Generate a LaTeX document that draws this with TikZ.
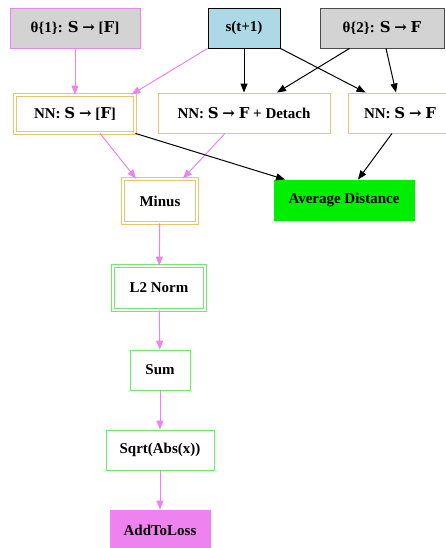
\documentclass[tikz,border=0pt]{standalone}
\usepackage{fontspec}
\setmainfont{Liberation Serif}
\newfontfamily\symfont{DejaVu Serif}
\usetikzlibrary{arrows.meta}
\definecolor{vio}{HTML}{EE82EE}
\definecolor{orng}{HTML}{F2C46A}
\definecolor{lgreen}{HTML}{6AEE6A}
\definecolor{gfill}{HTML}{00EE00}
\definecolor{gray1}{HTML}{D3D3D3}
\definecolor{lblue}{HTML}{ADD8E6}
\newcommand{\bS}{{\symfont\bfseries S}}
\newcommand{\bF}{{\symfont\bfseries F}}
\newcommand{\rarr}{\ {\symfont\bfseries →}\ }
\tikzset{
  box/.style={draw, rectangle, inner sep=0pt, line width=0.9pt,
    font=\fontsize{15}{17}\selectfont\bfseries},
  dbl/.style={box, double=white, double distance=2.4pt, line width=0.8pt},
  vedge/.style={draw=vio, line width=1pt, -{Triangle[length=9pt,width=7pt]}},
  kedge/.style={draw=black, line width=1pt, -{Triangle[length=9pt,width=7pt]}}
}
\begin{document}
\begin{tikzpicture}[x=1pt,y=-1pt]
\useasboundingbox (0,0) rectangle (446,548);
\clip (0,0) rectangle (446,548);
% inputs
\node[box, draw=vio, fill=gray1, minimum width=130, minimum height=40] (t1) at (75,28) {θ\{1\}: \bS\rarr[\bF]};
\node[box, draw=black, fill=lblue, minimum width=72, minimum height=40] (s) at (244,28) {s(t+1)};
\node[box, draw=black!70, fill=gray1, minimum width=124, minimum height=40] (t2) at (382,28) {θ\{2\}: \bS\rarr\bF};
% networks
\node[dbl, draw=orng, minimum width=120, minimum height=38] (nn1) at (75,114) {NN: \bS\rarr[\bF]};
\node[box, draw=orng, minimum width=172, minimum height=40] (nn2) at (244,113) {NN: \bS\rarr\bF\ + Detach};
\node[box, draw=orng, minimum width=104, minimum height=40] (nn3) at (400,113) {NN: \bS\rarr\bF};
% loss chain
\node[dbl, draw=orng, minimum width=74, minimum height=44] (minus) at (160,201) {Minus};
\node[box, draw=gfill, fill=gfill, minimum width=140, minimum height=40] (avg) at (344,200) {Average Distance};
\node[dbl, draw=lgreen, minimum width=92, minimum height=44] (l2) at (159,288) {L2 Norm};
\node[box, draw=lgreen, minimum width=60, minimum height=40] (sum) at (160,370) {Sum};
\node[box, draw=lgreen, minimum width=108, minimum height=40] (sqrt) at (160,450) {Sqrt(Abs(x))};
\node[box, draw=vio, fill=vio, minimum width=100, minimum height=40] (add) at (160,530) {AddToLoss};
% connectors
\draw[vedge] (t1.south) -- (nn1.north);
\draw[vedge] (s.south west) -- ([xshift=-4]nn1.north east);
\draw[kedge] (s.south) -- (nn2.north);
\draw[kedge] (s.south east) -- ([xshift=18]nn3.north west);
\draw[kedge] ([xshift=30]t2.south west) -- ([xshift=33]nn2.north);
\draw[kedge] ([xshift=4]t2.south) -- ([xshift=-4]nn3.north);
\draw[vedge] ([xshift=25]nn1.south) -- ([xshift=-24]minus.north);
\draw[vedge] ([xshift=-19]nn2.south) -- ([xshift=23]minus.north);
\draw[kedge] (nn1.south east) -- ([xshift=-59]avg.north);
\draw[kedge] ([xshift=-8]nn3.south) -- ([xshift=14]avg.north);
\draw[vedge] (minus) -- (l2);
\draw[vedge] (l2) -- (sum);
\draw[vedge] (sum) -- (sqrt);
\draw[vedge] (sqrt) -- (add);
\end{tikzpicture}
\end{document}
